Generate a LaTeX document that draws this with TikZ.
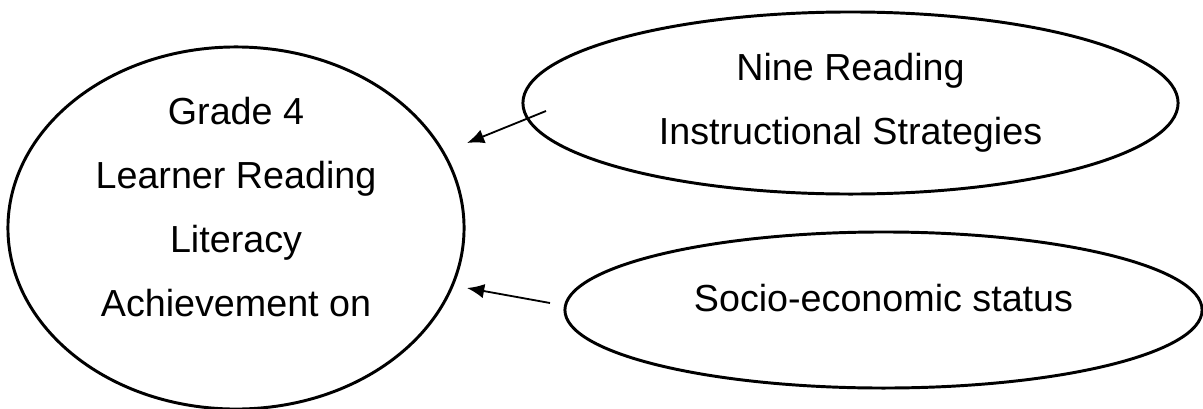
\documentclass[tikz,border=0pt]{standalone}
\usepackage{fontspec}
\setmainfont{Liberation Sans}
\usetikzlibrary{shapes.geometric, arrows.meta}

\tikzset{
  bubble/.style={draw, ellipse, line width=2.1pt, inner sep=0pt},
  words/.style={align=center, inner sep=0pt},
  link/.style={line width=1.3pt, -{Latex[length=0.43cm, width=0.36cm]}},
}

\begin{document}
\begin{tikzpicture}[x=0.025cm, y=-0.025cm, font={\fontsize{26.8pt}{45.5pt}\selectfont}]
	\useasboundingbox (0,0) rectangle (1203,408);
	
	% outcome
	\node[bubble, minimum width=11.4cm, minimum height=9.05cm] (learner) at (236,228) {};
	\node[words] (learnertext) at ([yshift=0.525cm]learner.center) {Grade 4\\Learner Reading\\Literacy\\Achievement on};
	
	% factors
	\node[bubble, words, minimum width=16.375cm, minimum height=4.55cm] (strategies) at (850.5,103) {Nine Reading\\Instructional Strategies};
	\node[bubble, minimum width=15.925cm, minimum height=3.9cm, text depth=0.59cm] (status) at (883.5,310) {Socio-economic status};
	
	\coordinate (fromstrat) at (546,111);
	\coordinate (tostrat) at (467,143);
	\coordinate (fromstatus) at (550,303);
	\coordinate (tostatus) at (467,288);
	
	\draw[link] (fromstrat) -- (tostrat);
	\draw[link] (fromstatus) -- (tostatus);
\end{tikzpicture}
\end{document}
